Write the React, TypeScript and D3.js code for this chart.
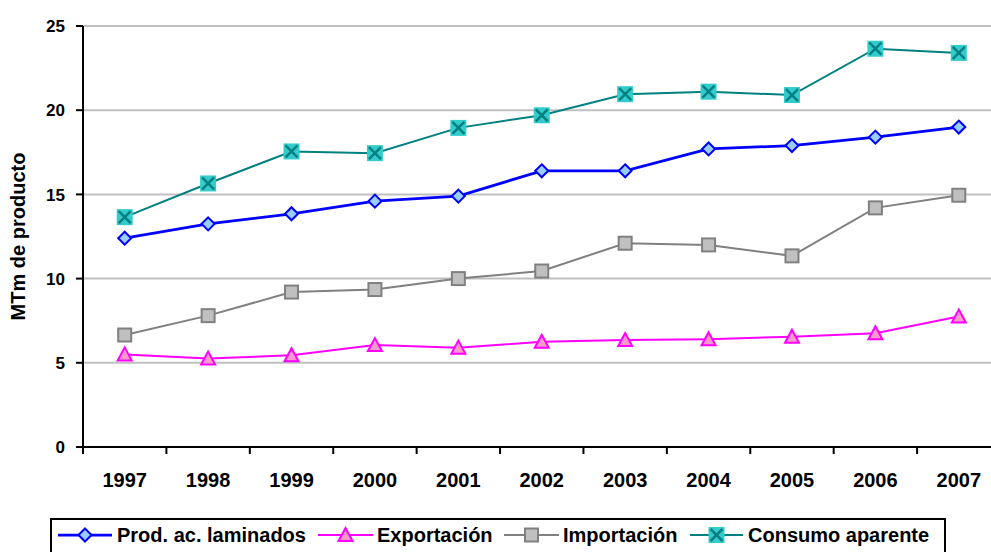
import React, { useEffect, useRef } from 'react';
import * as d3 from 'd3';

const years = ['1997', '1998', '1999', '2000', '2001', '2002', '2003', '2004', '2005', '2006', '2007'];
const prodLaminados = [12.4, 13.25, 13.85, 14.6, 14.9, 16.4, 16.4, 17.7, 17.9, 18.4, 19.0];
const exportacion = [5.5, 5.25, 5.45, 6.05, 5.9, 6.25, 6.35, 6.4, 6.55, 6.75, 7.75];
const importacion = [6.65, 7.8, 9.2, 9.35, 10.0, 10.45, 12.1, 12.0, 11.35, 14.2, 14.95];
const consumoAparente = [13.65, 15.65, 17.55, 17.45, 18.95, 19.7, 20.95, 21.1, 20.9, 23.65, 23.4];
const yTicks = [0, 5, 10, 15, 20, 25];

const series = [
  { name: 'Prod. ac. laminados', values: prodLaminados, stroke: '#0000ff', fill: '#99ccff', marker: 'diamond', width: 2.75 },
  { name: 'Exportación', values: exportacion, stroke: '#ff00ff', fill: '#ff99cc', marker: 'triangle', width: 2 },
  { name: 'Importación', values: importacion, stroke: '#808080', fill: '#c0c0c0', marker: 'square', width: 2 },
  { name: 'Consumo aparente', values: consumoAparente, stroke: '#008080', fill: '#33cccc', marker: 'cross', width: 2 },
];

const font = '"Liberation Sans", Arial, sans-serif';

function drawMarker(g: any, kind: string, x: number, y: number, stroke: string, fill: string) {
  if (kind === 'diamond') {
    const r = 6.5;
    g.append('path')
      .attr('d', `M${x},${y - r}L${x + r},${y}L${x},${y + r}L${x - r},${y}Z`)
      .attr('fill', fill).attr('stroke', stroke).attr('stroke-width', 2);
  } else if (kind === 'triangle') {
    const r = 7;
    g.append('path')
      .attr('d', `M${x},${y - r}L${x + r},${y + r - 1}L${x - r},${y + r - 1}Z`)
      .attr('fill', fill).attr('stroke', stroke).attr('stroke-width', 2);
  } else if (kind === 'square') {
    const r = 6.5;
    g.append('rect')
      .attr('x', x - r).attr('y', y - r).attr('width', 2 * r).attr('height', 2 * r)
      .attr('fill', fill).attr('stroke', stroke).attr('stroke-width', 2);
  } else {
    const r = 8;
    g.append('rect')
      .attr('x', x - r).attr('y', y - r).attr('width', 2 * r).attr('height', 2 * r)
      .attr('fill', fill);
    const c = 6;
    g.append('path')
      .attr('d', `M${x - c},${y - c}L${x + c},${y + c}M${x + c},${y - c}L${x - c},${y + c}`)
      .attr('stroke', stroke).attr('stroke-width', 2.5);
  }
}

export default function App() {
  const svgRef = useRef<SVGSVGElement>(null);

  useEffect(() => {
    if (!svgRef.current) return;
    const svg = d3.select(svgRef.current);
    svg.selectAll('*').remove();

    const left = 83, right = 1000.5, top = 26, bottom = 447;

    const x = d3.scaleBand<string>().domain(years).range([left, right]);
    const y = d3.scaleLinear().domain([0, 25]).range([bottom, top]);

    // gridlines
    svg.append('g')
      .selectAll('line')
      .data(yTicks.filter(d => d > 0))
      .join('line')
      .attr('x1', left).attr('x2', right)
      .attr('y1', d => y(d)).attr('y2', d => y(d))
      .attr('stroke', '#c0c0c0').attr('stroke-width', 2);

    // y axis
    const ya = svg.append('g');
    ya.append('line').attr('x1', left).attr('x2', left).attr('y1', top).attr('y2', bottom + 1)
      .attr('stroke', '#000').attr('stroke-width', 2);
    ya.selectAll('line.t').data(yTicks).join('line').attr('class', 't')
      .attr('x1', left - 7).attr('x2', left).attr('y1', d => y(d)).attr('y2', d => y(d))
      .attr('stroke', '#000').attr('stroke-width', 2);
    ya.selectAll('text').data(yTicks).join('text')
      .attr('x', 65).attr('y', d => y(d)).attr('dy', '0.36em')
      .attr('text-anchor', 'end')
      .style('font-family', font).style('font-weight', 'bold').style('font-size', '17px')
      .text(d => d);

    // x axis
    const xa = svg.append('g');
    xa.append('line').attr('x1', left - 1).attr('x2', right).attr('y1', bottom).attr('y2', bottom)
      .attr('stroke', '#000').attr('stroke-width', 2);
    const bounds = years.map(d => x(d) as number).concat([right]);
    xa.selectAll('line.t').data(bounds).join('line').attr('class', 't')
      .attr('x1', d => d).attr('x2', d => d).attr('y1', bottom).attr('y2', bottom + 7)
      .attr('stroke', '#000').attr('stroke-width', 2);
    xa.selectAll('text').data(years).join('text')
      .attr('x', d => (x(d) as number) + x.bandwidth() / 2).attr('y', 487)
      .attr('text-anchor', 'middle')
      .style('font-family', font).style('font-weight', 'bold').style('font-size', '20px')
      .text(d => d);

    // y label
    svg.append('text')
      .attr('transform', `translate(25,${(top + bottom) / 2}) rotate(-90)`)
      .attr('text-anchor', 'middle')
      .style('font-family', font).style('font-weight', 'bold').style('font-size', '20px')
      .text('MTm de producto');

    // series
    const cx = (i: number) => (x(years[i]) as number) + x.bandwidth() / 2;
    const line = d3.line<number>().x((_, i) => cx(i)).y(d => y(d));
    series.forEach(s => {
      const g = svg.append('g');
      g.append('path').datum(s.values).attr('d', line)
        .attr('fill', 'none').attr('stroke', s.stroke).attr('stroke-width', s.width);
      s.values.forEach((v, i) => drawMarker(g, s.marker, cx(i), y(v), s.stroke, s.fill));
    });

    // legend
    const lg = svg.append('g');
    lg.append('rect').attr('x', 51).attr('y', 519).attr('width', 894).attr('height', 45)
      .attr('fill', '#fff').attr('stroke', '#000').attr('stroke-width', 2);
    const legendPos = [
      { x1: 58, x2: 112, tx: 117 },
      { x1: 318, x2: 373, tx: 377 },
      { x1: 504, x2: 559, tx: 563 },
      { x1: 690, x2: 743, tx: 748 },
    ];
    const ly = 535;
    series.forEach((s, i) => {
      const p = legendPos[i];
      lg.append('line').attr('x1', p.x1).attr('x2', p.x2).attr('y1', ly).attr('y2', ly)
        .attr('stroke', s.stroke).attr('stroke-width', s.width);
      drawMarker(lg, s.marker, (p.x1 + p.x2) / 2, ly, s.stroke, s.fill);
      lg.append('text').attr('x', p.tx).attr('y', 542)
        .style('font-family', font).style('font-weight', 'bold').style('font-size', '20px')
        .text(s.name);
    });
  }, []);

  return (
    <svg ref={svgRef} width={991} height={552}
      style={{ position: 'absolute', left: 0, top: 0, background: '#fff' }} />
  );
}
